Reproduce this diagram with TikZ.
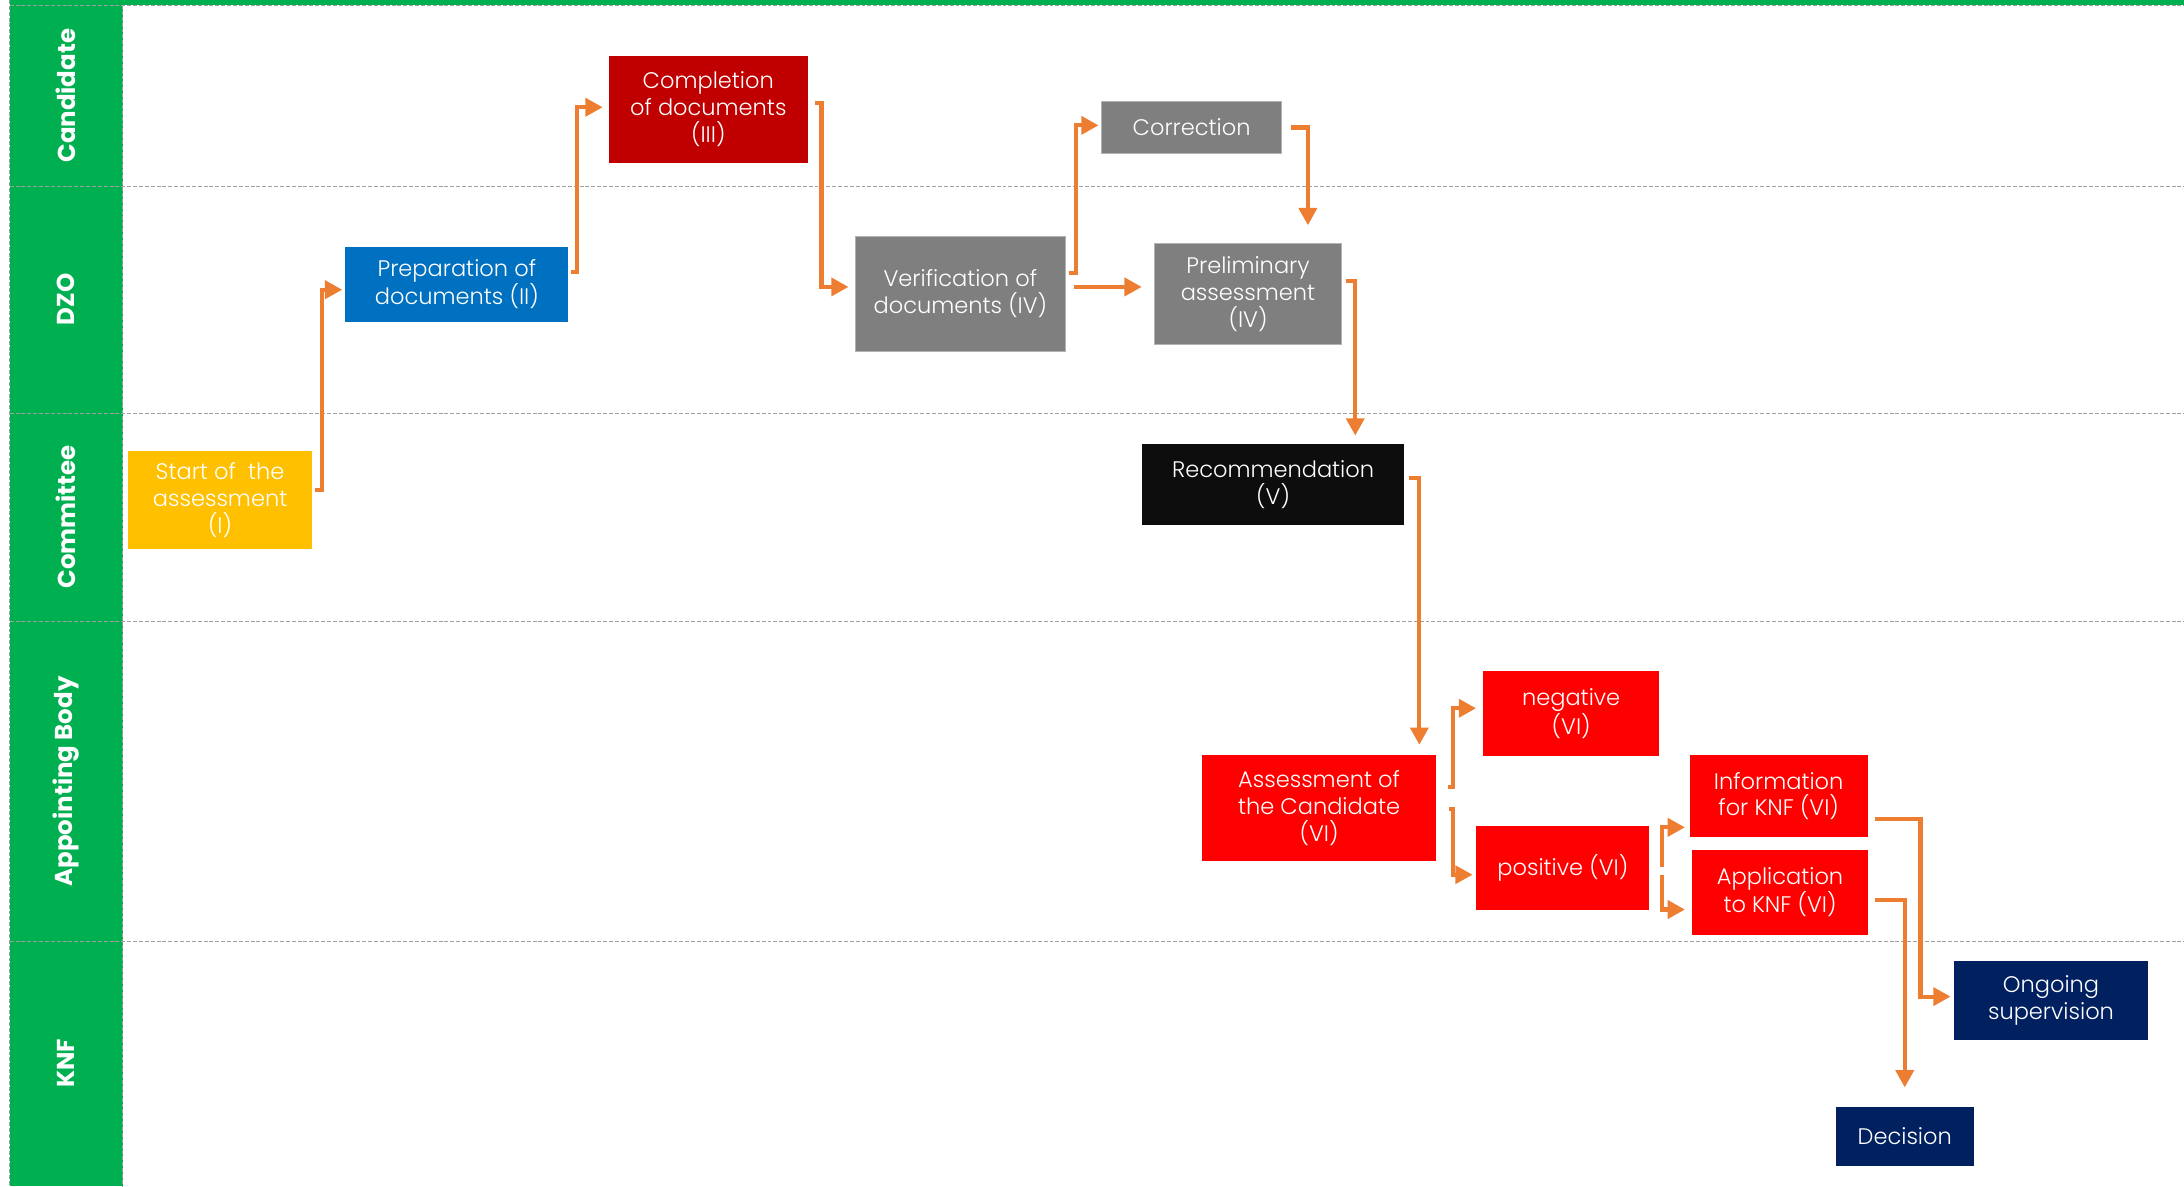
\documentclass[tikz,border=0pt]{standalone}
\usepackage{fontspec}
\setmainfont{Poppins}
\newfontfamily\boxfont{Poppins Light}
\usetikzlibrary{arrows.meta}

\definecolor{lanegreen}{HTML}{00B050}
\definecolor{flowor}{HTML}{ED7D31}
\definecolor{yel}{HTML}{FFC000}
\definecolor{blu}{HTML}{0070C0}
\definecolor{darkred}{HTML}{C00000}
\definecolor{gry}{HTML}{7F7F7F}
\definecolor{blk}{HTML}{0D0D0D}
\definecolor{brightred}{HTML}{FF0000}
\definecolor{navy}{HTML}{002060}

\begin{document}
\begin{tikzpicture}[x=0.25mm,y=-0.25mm,
    box/.style={fill=#1,text=white,align=center,inner sep=0pt,
      font=\boxfont\fontsize{11.5}{13.7}\selectfont},
    greybox/.style={box=gry,draw=gray!60,line width=0.4pt},
    flow/.style={draw=flowor,line width=0.75mm,
      -{Triangle[length=3.1mm,width=3.2mm]}},
    lane/.style={rotate=90,text=white,font=\bfseries\fontsize{12.5}{15}\selectfont},
    divider/.style={draw=gray!75,line width=0.5pt,dash pattern=on 2pt off 1pt}]
    \useasboundingbox (0,0) rectangle (1568,851.5);
    \fill[lanegreen] (7,0) rectangle (1568,3.6);
    \fill[lanegreen] (7,3.6) rectangle (88,851.5);
    \foreach \y in {3.6,133.8,296.7,446.3,675.7}
      \draw[divider] (7,\y) -- (1568,\y);
    \draw[divider] (7,0) -- (7,851.5);
    \draw[divider] (88,3.6) -- (88,851.5);

    \node[lane] (candidate) at (47.5,68.7) {Candidate};
    \node[lane] (dzo) at (47.5,215) {DZO};
    \node[lane] (committee) at (47.5,371) {Committee};
    \node[lane] (appointing) at (47.5,561) {Appointing Body};
    \node[lane] (knf) at (47.5,763.5) {KNF};

    \node[box=yel,minimum width=33mm,minimum height=17.5mm] (start) at (158,359)
      {Start of~ the\\assessment\\(I)};
    \node[box=blu,minimum width=40mm,minimum height=13.5mm] (prep) at (328,204)
      {Preparation of\\documents (II)};
    \node[box=darkred,minimum width=35.75mm,minimum height=19.25mm] (compl) at (508.5,78.5)
      {Completion\\of documents\\(III)};
    \node[greybox,minimum width=37.75mm,minimum height=20.5mm] (verif) at (689.5,211)
      {Verification of\\documents (IV)};
    \node[greybox,minimum width=32.25mm,minimum height=9.25mm] (corr) at (855.5,91.5)
      {Correction};
    \node[greybox,minimum width=33.5mm,minimum height=18mm] (prelim) at (896,211)
      {Preliminary\\assessment\\(IV)};
    \node[box=blk,minimum width=47mm,minimum height=14.5mm] (recom) at (914,348)
      {Recommendation\\(V)};
    \node[box=brightred,minimum width=42mm,minimum height=19mm] (assess) at (947,580)
      {Assessment of\\the Candidate\\(VI)};
    \node[box=brightred,minimum width=31.5mm,minimum height=15.25mm] (neg) at (1128,512.5)
      {negative\\(VI)};
    \node[box=brightred,minimum width=31mm,minimum height=15mm] (pos) at (1122,623)
      {positive (VI)};
    \node[box=brightred,minimum width=32mm,minimum height=14.75mm] (info) at (1277,571.5)
      {Information\\for KNF (VI)};
    \node[box=brightred,minimum width=31.5mm,minimum height=15.25mm] (appl) at (1278,640.5)
      {Application\\to KNF (VI)};
    \node[box=navy,minimum width=34.75mm,minimum height=14.25mm] (ongo) at (1472.5,718.5)
      {Ongoing\\supervision};
    \node[box=navy,minimum width=24.75mm,minimum height=10.5mm] (decis) at (1367.5,816)
      {Decision};

    \draw[flow] ([shift={(2,-7)}]start.east) -- ++(5,0) |- ([shift={(-2,4)}]prep.west);
    \draw[flow] ([shift={(2,-9)}]prep.east) -- ++(4,0) |- ([shift={(-4,-1.5)}]compl.west);
    \draw[flow] ([shift={(5,-4.5)}]compl.east) -- ++(4.5,0) |- ([shift={(-4.5,-5)}]verif.west);
    \draw[flow] ([shift={(2,-15)}]verif.east) -- ++(5,0) |- ([shift={(-2,-1.5)}]corr.west);
    \draw[flow] ([shift={(6,-5)}]verif.east) -- ([shift={(-9,-5)}]prelim.west);
    \draw[flow] ([shift={(6.5,0)}]corr.east) -| ([shift={(43,-13)}]prelim.north);
    \draw[flow] ([shift={(3,-9)}]prelim.east) -| ([shift={(59,-6)}]recom.north);
    \draw[flow] ([shift={(3,-5)}]recom.east) -| ([shift={(72,-7)}]assess.north);
    \draw[flow] ([shift={(8.5,-15)}]assess.east) -- ++(3.5,0) |- ([shift={(-5,-4)}]neg.west);
    \draw[flow] ([shift={(9,1)}]assess.east) -- ++(3,0) |- ([shift={(-2.5,5)}]pos.west);
    \draw[flow] ([shift={(7.5,-2)}]pos.east) -- ++(1.5,0) |- ([shift={(-3,22.5)}]info.west);
    \draw[flow] ([shift={(7.5,7)}]pos.east) -- ++(1.5,0) |- ([shift={(-5,12.5)}]appl.west);
    \draw[flow] ([shift={(5,16.5)}]info.east) -- ++(32.5,0) |- ([shift={(-2.3,-3)}]ongo.west);
    \draw[flow] ([shift={(5,5.5)}]appl.east) -| ([shift={(0,-14)}]decis.north);
\end{tikzpicture}
\end{document}
